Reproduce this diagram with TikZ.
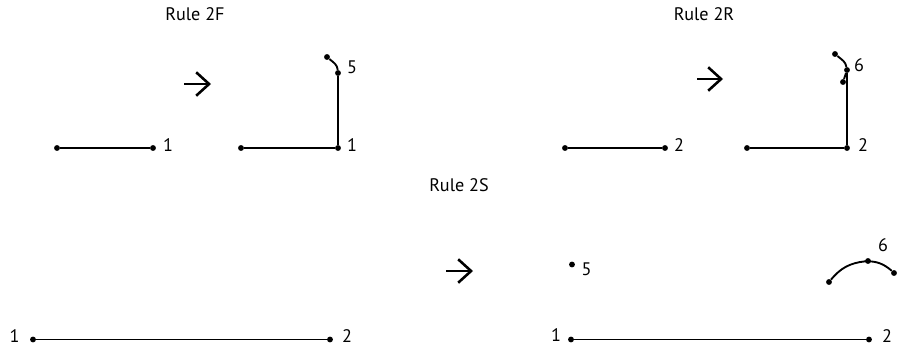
\documentclass[tikz,border=0pt]{standalone}
\usepackage{fontspec}
\setmainfont{PT Sans}
\usetikzlibrary{arrows.meta}

\tikzset{
  vtx/.style={circle,fill,inner sep=0pt,minimum size=5pt},
  seg/.style={line width=1.6pt},
  lbl/.style={font=\fontsize{15.5}{18}\selectfont},
  goes/.style={line width=2.2pt,-{Straight Barb[length=11pt,width=20pt,line width=2.2pt]}},
}

\begin{document}
\begin{tikzpicture}[x=0.03cm,y=-0.03cm]
  \useasboundingbox (0,0) rectangle (906,356);

  % rule 2F
  \node[lbl] (t2f) at (195,14) {Rule 2F};
  \node[vtx] (fa) at (57,148) {};
  \node[vtx] (fb) at (153,148) {};
  \draw[seg] (fa) -- (fb);
  \node[lbl] at (168,145) {1};
  \coordinate (fgo1) at (184,84);
  \coordinate (fgo2) at (211,84);
  \draw[goes] (fgo1) -- (fgo2);
  \node[vtx] (fc) at (241,148) {};
  \node[vtx] (fd) at (338,148) {};
  \node[vtx] (fe) at (338,73) {};
  \node[vtx] (ff) at (327,57) {};
  \draw[seg] (fc) -- (fd) -- (fe) to[out=95,in=-40] (ff);
  \node[lbl] at (352,67) {5};
  \node[lbl] at (352,145) {1};

  % rule 2R
  \node[lbl] (t2r) at (704,14) {Rule 2R};
  \node[vtx] (ra) at (565,148) {};
  \node[vtx] (rb) at (665,148) {};
  \draw[seg] (ra) -- (rb);
  \node[lbl] at (679,145) {2};
  \coordinate (rgo1) at (697,79);
  \coordinate (rgo2) at (723,79);
  \draw[goes] (rgo1) -- (rgo2);
  \node[vtx] (rc) at (747,148) {};
  \node[vtx] (rd) at (847,148) {};
  \node[vtx] (re) at (847,70) {};
  \node[vtx] (rf) at (835,54) {};
  \node[vtx] (rg) at (843,82) {};
  \draw[seg] (rc) -- (rd) -- (re) to[out=100,in=-40] (rf);
  \draw[seg] (re) -- (rg);
  \node[lbl] at (859,65) {6};
  \node[lbl] at (863,145) {2};

  % rule 2S
  \node[lbl] (t2s) at (459,185) {Rule 2S};
  \node[vtx] (sa) at (33,339.5) {};
  \node[vtx] (sb) at (330,339.5) {};
  \draw[seg] (sa) -- (sb);
  \node[lbl] at (14.5,336) {1};
  \node[lbl] at (347,336) {2};
  \coordinate (sgo1) at (446,271);
  \coordinate (sgo2) at (473,271);
  \draw[goes] (sgo1) -- (sgo2);
  \node[vtx] (sc) at (572,264.5) {};
  \node[lbl] at (586.5,269) {5};
  \node[vtx] (sd) at (571,339.5) {};
  \node[vtx] (se) at (869,339.5) {};
  \draw[seg] (sd) -- (se);
  \node[lbl] at (556,335) {1};
  \node[lbl] at (887,336) {2};
  \node[vtx] (sf) at (829,282) {};
  \node[vtx] (sg) at (868,261) {};
  \node[vtx] (sh) at (894,273) {};
  \draw[seg] (sf) to[bend left=22] (sg) to[bend left=22] (sh);
  \node[lbl] at (883,245) {6};
\end{tikzpicture}
\end{document}
